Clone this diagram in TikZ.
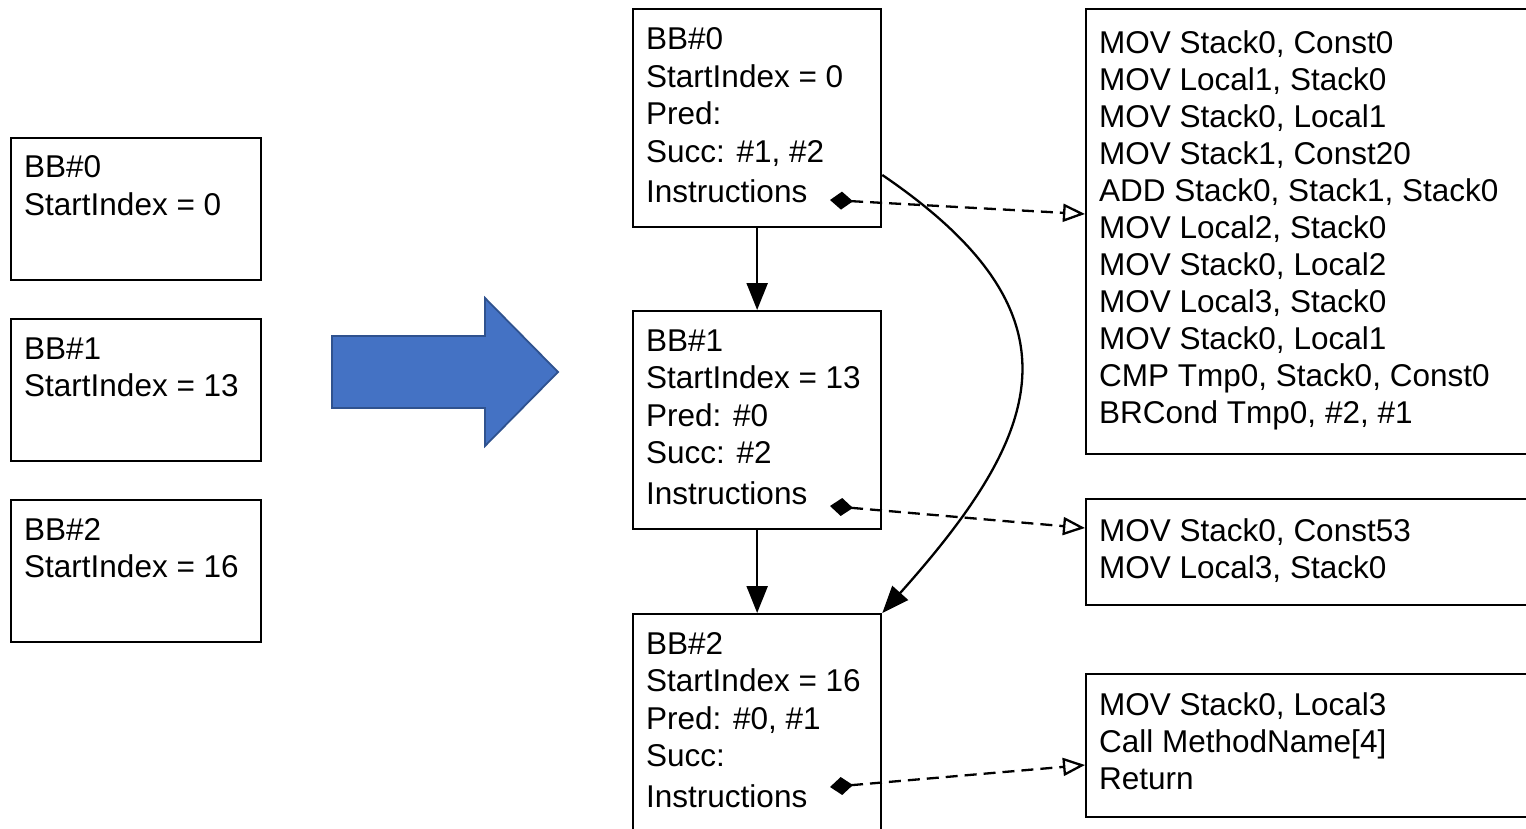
\documentclass[tikz,border=0pt]{standalone}
\usepackage{fontspec}
\setmainfont{Liberation Sans}
\usetikzlibrary{arrows.meta,calc}
\definecolor{arrowblue}{HTML}{4472C4}
\definecolor{arrowedge}{HTML}{2F528F}

\begin{document}
\begin{tikzpicture}[x=1pt,y=-1pt,
  box/.style={draw, line width=2.3pt, inner sep=0pt, anchor=north west},
  % anchored at the baseline of the last line
  txt/.style={anchor=base west, inner sep=0pt, align=left,
    font=\fontsize{31.5}{37.5}\selectfont},
  code/.style={txt, font=\fontsize{31.5}{37}\selectfont},
  flow/.style={line width=2.3pt, -{Triangle[length=27pt,width=21pt]}},
  ref/.style={line width=2.3pt, dash pattern=on 12pt off 7pt,
    {Diamond[length=23pt,width=18pt]}-{Triangle[open,length=22pt,width=18pt,line width=2.3pt]}},
]
\useasboundingbox (0,0) rectangle (1526,829);
\clip (0,0) rectangle (1526,829);

% block list before analysis
\node[box, minimum width=250pt, minimum height=142pt] (l0) at (10,137) {};
\node[box, minimum width=250pt, minimum height=142pt] (l1) at (10,318) {};
\node[box, minimum width=250pt, minimum height=142pt] (l2) at (10,499) {};
\node[txt] (l0t) at (24,215.5) {BB\#0\\StartIndex = 0};
\node[txt] (l1t) at (24,396.5) {BB\#1\\StartIndex = 13};
\node[txt] (l2t) at (24,577.5) {BB\#2\\StartIndex = 16};

% transformation arrow
\path[fill=arrowblue, draw=arrowedge, line width=1.8pt, line join=miter]
  (332,336) -- (485,336) -- (485,298) -- (558,372) -- (485,446)
  -- (485,408) -- (332,408) -- cycle;

% basic blocks with their control flow
\node[box, minimum width=248pt, minimum height=218pt] (m0) at (632,8) {};
\node[box, minimum width=248pt, minimum height=218pt] (m1) at (632,310) {};
\node[box, minimum width=248pt, minimum height=260pt] (m2) at (632,613) {};
\node[txt] (m0t) at (646,203) {BB\#0\\StartIndex = 0\\Pred:\\Succ: \#1, \#2\\[3pt]Instructions};
\node[txt] (m1t) at (646,504) {BB\#1\\StartIndex = 13\\Pred: \#0\\Succ: \#2\\[3pt]Instructions};
\node[txt] (m2t) at (646,807) {BB\#2\\StartIndex = 16\\Pred: \#0, \#1\\Succ:\\[3pt]Instructions};

% instruction lists
\node[box, minimum width=500pt, minimum height=445pt] (r0) at (1085,8) {};
\node[box, minimum width=500pt, minimum height=106pt] (r1) at (1085,498) {};
\node[box, minimum width=500pt, minimum height=143pt] (r2) at (1085,673) {};
\node[code] (r0t) at (1099,423) {MOV Stack0, Const0\\MOV Local1, Stack0\\MOV Stack0, Local1\\MOV Stack1, Const20\\ADD Stack0, Stack1, Stack0\\MOV Local2, Stack0\\MOV Stack0, Local2\\MOV Local3, Stack0\\MOV Stack0, Local1\\CMP Tmp0, Stack0, Const0\\BRCond Tmp0, \#2, \#1};
\node[code] (r1t) at (1099,578) {MOV Stack0, Const53\\MOV Local3, Stack0};
\node[code] (r2t) at (1099,789) {MOV Stack0, Local3\\Call MethodName[4]\\Return};

% control-flow edges
\draw[flow] (m0.south) -- (m1.north);
\draw[flow] (m1.south) -- (m2.north);
\coordinate (c0) at ($(m0.north east)+(0,167)$);
\draw[flow] (c0) .. controls (1088,315) and (1044,432) .. (m2.north east);

% instruction references
\coordinate (i0) at (830,200);
\coordinate (i1) at (830,506);
\coordinate (i2) at (830,787);
\draw[ref] (i0) -- ($(r0.north west)+(0,206)$);
\draw[ref] (i1) -- ($(r1.north west)+(0,30)$);
\draw[ref] (i2) -- ($(r2.north west)+(0,92)$);
\end{tikzpicture}
\end{document}
